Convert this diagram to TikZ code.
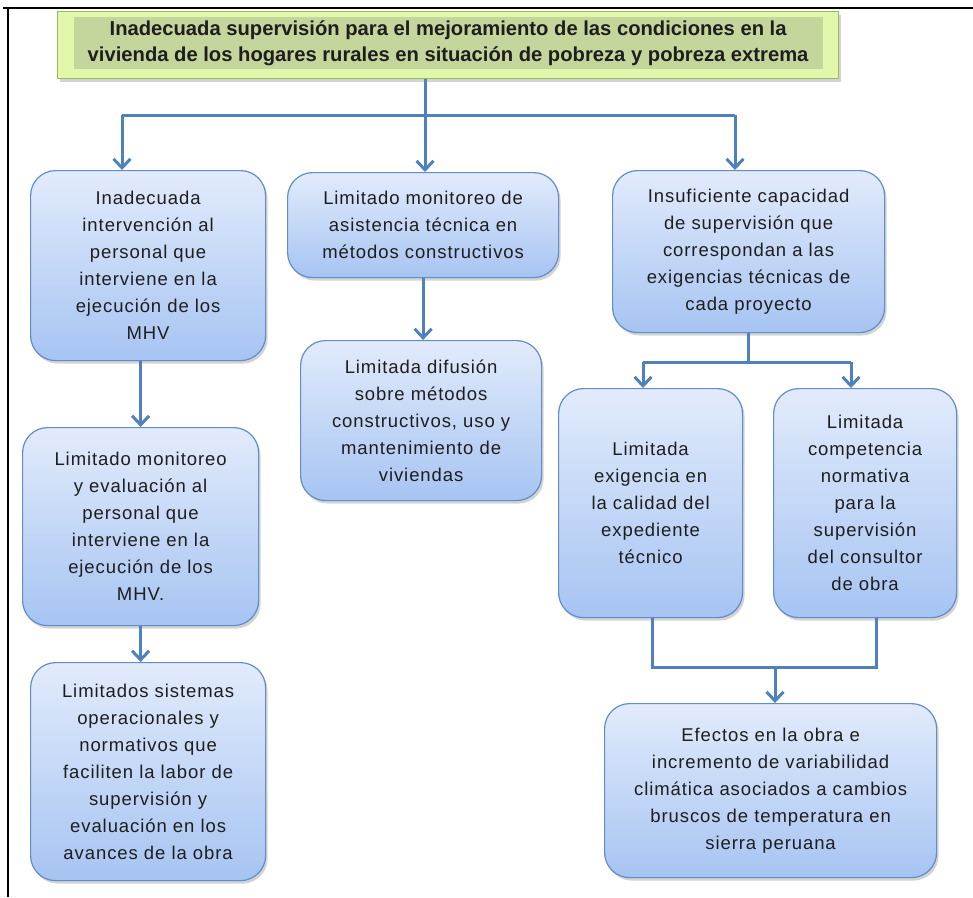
\documentclass[tikz,border=0pt]{standalone}
\usepackage{fontspec}
\setmainfont{Liberation Sans}
\usetikzlibrary{arrows.meta,shadows}

\definecolor{boxtop}{RGB}{226,235,251}
\definecolor{boxbot}{RGB}{166,196,242}
\definecolor{boxline}{RGB}{98,141,203}
\definecolor{arrowblue}{RGB}{79,129,189}
\definecolor{titlefill}{RGB}{224,247,172}
\definecolor{titleinner}{RGB}{196,214,155}
\definecolor{titleline}{RGB}{155,187,89}
\definecolor{txt}{RGB}{30,30,30}

\newcommand{\boxfont}{\fontsize{18.5}{27}\selectfont\addfontfeature{LetterSpace=5}}
\newcommand{\titlefont}{\bfseries\fontsize{20.2}{26}\selectfont}

\tikzset{
  causa/.style={draw=boxline, line width=1.2pt, rounded corners=25pt,
    top color=boxtop, bottom color=boxbot, anchor=north west,
    align=center, text=txt, font=\boxfont,
    drop shadow={shadow xshift=2pt, shadow yshift=-3pt, opacity=0.35}},
  titlebox/.style={draw=titleline, line width=1.2pt, fill=titlefill,
    drop shadow={shadow xshift=2pt, shadow yshift=-3pt, opacity=0.35}},
  titleband/.style={fill=titleinner, align=center, text=txt, font=\titlefont},
  linea/.style={draw=arrowblue, line width=3pt},
  flecha/.style={linea, -{Straight Barb[length=9pt,width=17pt]}},
}

\begin{document}
\begin{tikzpicture}[x=1pt, y=-1pt]
\useasboundingbox (0,0) rectangle (973,897);
% marco
\draw[line width=1.5pt] (3,8) -- (973,8);
\draw[line width=1.5pt] (8,8) -- (8,897);

% problema central
\node[titlebox, anchor=north west, minimum width=781pt, minimum height=67pt] (title) at (57,11) {};
\node[titleband, minimum width=749pt, minimum height=51pt] (titletext) at ([yshift=2pt]title.center)
  {Inadecuada supervisión para el mejoramiento de las condiciones en la\\
   vivienda de los hogares rurales en situación de pobreza y pobreza extrema};

% rama izquierda
\node[causa, minimum width=235pt, minimum height=190pt] (inter) at (30,170)
  {Inadecuada\\intervención al\\personal que\\interviene en la\\ejecución de los\\MHV};
\node[causa, minimum width=236pt, minimum height=198pt] (monitoreo) at (22,427)
  {Limitado monitoreo\\y evaluación al\\personal que\\interviene en la\\ejecución de los\\MHV.};
\node[causa, minimum width=235pt, minimum height=218pt] (sistemas) at (30,662)
  {Limitados sistemas\\operacionales y\\normativos que\\faciliten la labor de\\supervisión y\\evaluación en los\\avances de la obra};

% rama central
\node[causa, minimum width=271pt, minimum height=105pt] (asistencia) at (287,172)
  {Limitado monitoreo de\\asistencia técnica en\\métodos constructivos};
\node[causa, minimum width=241pt, minimum height=160pt] (difusion) at (300,340)
  {Limitada difusión\\sobre métodos\\constructivos, uso y\\mantenimiento de\\viviendas};

% rama derecha
\node[causa, minimum width=272pt, minimum height=162pt] (capacidad) at (612,170)
  {Insuficiente capacidad\\de supervisión que\\correspondan a las\\exigencias técnicas de\\cada proyecto};
\node[causa, minimum width=184pt, minimum height=229pt] (exigencia) at (558,388)
  {Limitada\\exigencia en\\la calidad del\\expediente\\técnico};
\node[causa, minimum width=183pt, minimum height=229pt] (competencia) at (773,388)
  {Limitada\\competencia\\normativa\\para la\\supervisión\\del consultor\\de obra};
\node[causa, minimum width=332pt, minimum height=174pt] (efectos) at (604,703)
  {Efectos en la obra e\\incremento de variabilidad\\climática asociados a cambios\\bruscos de temperatura en\\sierra peruana};

% conectores
\coordinate (split) at (425,115);
\coordinate (splitL) at (122,115);
\coordinate (splitR) at (735,115);
\draw[linea] (split |- title.south) -- (split);
\draw[linea] (splitL) -- (splitR);
\draw[flecha] (splitL) -- (splitL |- inter.north);
\draw[flecha] (split) -- (split |- asistencia.north);
\draw[flecha] (splitR) -- (splitR |- capacidad.north);
\draw[flecha] (monitoreo.north |- inter.south) -- (monitoreo.north);
\draw[flecha] (monitoreo.south) -- (monitoreo.south |- sistemas.north);
\draw[flecha] (asistencia.south) -- (asistencia.south |- difusion.north);

\coordinate (cl) at (643,362);
\coordinate (cr) at (851,362);
\draw[linea] (capacidad.south) -- (capacidad.south |- cl);
\draw[linea] (cl) -- (cr);
\draw[flecha] (cl) -- (cl |- exigencia.north);
\draw[flecha] (cr) -- (cr |- competencia.north);

\coordinate (bl) at (652,667);
\coordinate (br) at (876,667);
\coordinate (bm) at (775,667);
\draw[linea] (bl |- exigencia.south) -- (bl) -- (br) -- (br |- competencia.south);
\draw[flecha] (bm) -- (bm |- efectos.north);
\end{tikzpicture}
\end{document}
